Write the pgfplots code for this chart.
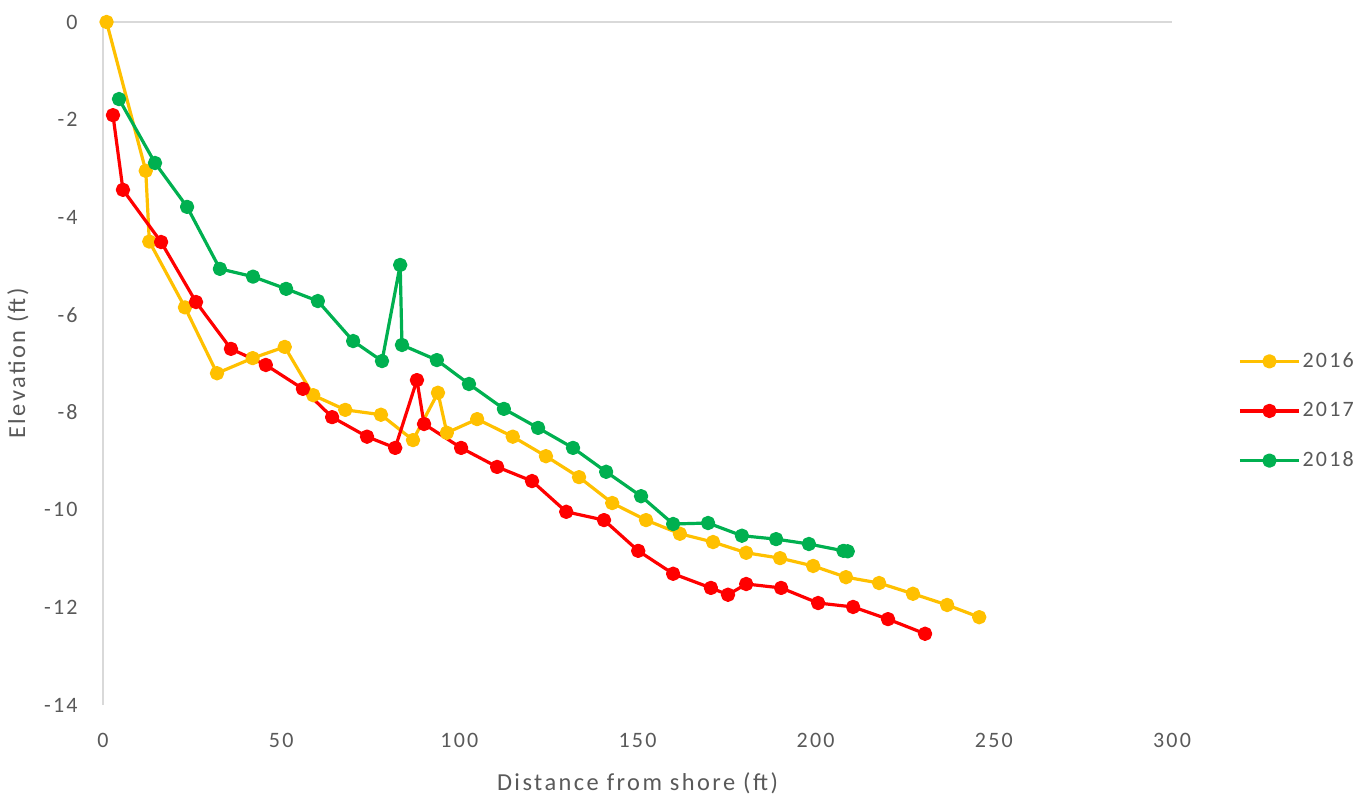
\documentclass[border=0pt]{standalone}
\usepackage{fontspec}
\setmainfont{Carlito}[LetterSpace=10]
\usepackage{pgfplots}
\pgfplotsset{compat=1.18}
\definecolor{c16}{HTML}{FFC000}
\definecolor{c17}{HTML}{FF0000}
\definecolor{c18}{HTML}{00B050}
\definecolor{axgray}{HTML}{D9D9D9}
\definecolor{txt}{HTML}{595959}
\begin{document}
\begin{tikzpicture}
\useasboundingbox (-51.5pt,-48.5pt) rectangle (633.5pt,352.5pt);
\begin{axis}[
  at={(0pt,0pt)}, anchor=south west,
  scale only axis, width=534.5pt, height=341.5pt,
  xmin=0, xmax=300, ymin=-14, ymax=0,
  xtick={0,50,...,300}, ytick={-14,-12,...,0},
  major tick length=0pt,
  axis x line*=bottom, axis y line*=left,
  x axis line style={draw=none, -},
  y axis line style={draw=axgray, line width=1pt, -},
  clip=false,
  font=\fontsize{11pt}{13pt}\selectfont,
  /pgf/number format/assume math mode=true,
  tick label style={text=txt, inner sep=0pt},
  yticklabel style={anchor=east, xshift=-12.5pt},
  xticklabel style={anchor=north, yshift=-14pt},
  xlabel={Distance from shore (ft)},
  ylabel={Elevation (ft)},
  xlabel style={at={(axis description cs:0.5,-0.1142)}, anchor=center, text=txt, inner sep=0pt, font=\fontsize{12.2pt}{14pt}\selectfont},
  ylabel style={at={(axis description cs:-0.0795,0.5)}, anchor=center, text=txt, inner sep=0pt, font=\fontsize{12.2pt}{14pt}\selectfont},
  every axis plot/.append style={line width=1.6pt, line join=round, mark=*, mark size=2.8pt},
  legend style={at={(axis description cs:1.0617,0.4304)}, anchor=west, draw=none, fill=none,
    inner sep=0pt, row sep=14pt, font=\fontsize{11pt}{13pt}\selectfont, text=txt,
    nodes={inner sep=1pt}},
  legend cell align=left,
  legend image code/.code={\draw[mark repeat=2,mark phase=2,#1] plot coordinates {(0pt,0pt) (14.75pt,0pt) (29.5pt,0pt)};},
]
\draw[axgray, line width=1pt] (axis cs:0,0) -- (axis cs:300,0);
\addplot[c16, mark options={fill=c16}] coordinates {
(1,0) (12,-3.05) (13,-4.5) (23,-5.85) (32,-7.2) (42,-6.89) (51,-6.66) (59,-7.65)
(68,-7.95) (78,-8.05) (87,-8.57) (94,-7.6) (96.5,-8.42) (105,-8.14) (115,-8.5)
(124.3,-8.9) (133.6,-9.33) (142.9,-9.86) (152.4,-10.21) (161.9,-10.49) (171.2,-10.66)
(180.5,-10.88) (190,-10.99) (199.3,-11.15) (208.5,-11.38) (217.8,-11.5) (227.3,-11.72)
(236.9,-11.95) (245.9,-12.2)};
\addlegendentry{2016}
\addplot[c17, mark options={fill=c17}] coordinates {
(2.8,-1.91) (5.6,-3.44) (16.3,-4.51) (26.1,-5.74) (35.9,-6.70) (45.7,-7.03) (56.1,-7.52)
(64.3,-8.10) (74.1,-8.5) (82.0,-8.73) (88.1,-7.34) (90.1,-8.24) (100.5,-8.73) (110.6,-9.12)
(120.4,-9.41) (130.0,-10.04) (140.6,-10.21) (150.2,-10.84) (160.0,-11.31) (170.6,-11.6)
(175.4,-11.74) (180.5,-11.52) (190.3,-11.6) (200.7,-11.91) (210.5,-11.99) (220.3,-12.24)
(230.7,-12.54)};
\addlegendentry{2017}
\addplot[c18, mark options={fill=c18}] coordinates {
(4.5,-1.58) (14.6,-2.89) (23.6,-3.79) (32.8,-5.06) (42.1,-5.22) (51.4,-5.47) (60.3,-5.72)
(70.2,-6.54) (78.3,-6.95) (83.4,-4.98) (83.9,-6.62) (93.7,-6.93) (102.7,-7.42) (112.5,-7.93)
(122.1,-8.32) (131.9,-8.73) (141.2,-9.22) (151.0,-9.72) (160.0,-10.29) (169.8,-10.27)
(179.3,-10.53) (188.9,-10.6) (198.1,-10.7) (207.8,-10.84) (209,-10.85)};
\addlegendentry{2018}
\end{axis}
\end{tikzpicture}
\end{document}
